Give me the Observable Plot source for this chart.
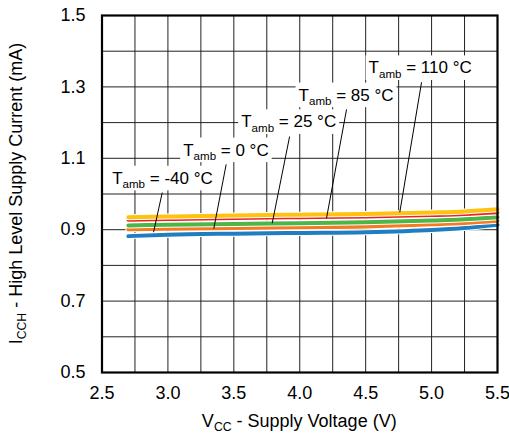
<!DOCTYPE html>
<html><head><meta charset="utf-8">
<script src="https://cdn.jsdelivr.net/npm/d3@7"></script>
<script src="https://cdn.jsdelivr.net/npm/@observablehq/plot@0.6"></script>
<style>body{margin:0;background:#fff}</style>
</head><body><div id="chart"></div>
<script>
// Supply voltage (V)
const vcc = [2.7, 3.0, 3.5, 4.0, 4.5, 5.0, 5.25, 5.5];
// High level supply current (mA) per ambient temperature
const iccM40 = [0.882, 0.886, 0.889, 0.891, 0.893, 0.899, 0.905, 0.914];
const icc0   = [0.901, 0.903, 0.905, 0.907, 0.909, 0.915, 0.919, 0.925];
const icc25  = [0.912, 0.914, 0.916, 0.918, 0.921, 0.926, 0.929, 0.935];
const icc85  = [0.928, 0.930, 0.933, 0.935, 0.937, 0.941, 0.944, 0.949];
const icc110 = [0.935, 0.937, 0.940, 0.942, 0.944, 0.948, 0.951, 0.957];
const seriesNames = ["-40", "0", "25", "85", "110"];
const seriesValues = [iccM40, icc0, icc25, icc85, icc110];
const seriesColors = ["#1f7ec2", "#f47b22", "#4cb748", "#ee1f25", "#ffc20e"];

const xTicks = [2.5, 3.0, 3.5, 4.0, 4.5, 5.0, 5.5];
const yTicks = [0.5, 0.7, 0.9, 1.1, 1.3, 1.5];
const xGrid = [2.75, 3.0, 3.25, 3.5, 3.75, 4.0, 4.25, 4.5, 4.75, 5.0, 5.25];
const yGrid = [0.6, 0.7, 0.8, 0.9, 1.0, 1.1, 1.2, 1.3, 1.4];

// Annotations
const labelRest = [" = -40 °C", " = 0 °C", " = 25 °C", " = 85 °C", " = 110 °C"];
const labelX = [2.577, 3.116, 3.556, 3.991, 4.522];
const labelY = [1.044, 1.123, 1.202, 1.277, 1.353];
const leadX1 = [2.957, 3.442, 3.923, 4.355, 4.924];
const leadY1 = [1.004, 1.083, 1.161, 1.237, 1.313];
const leadX2 = [2.891, 3.348, 3.791, 4.203, 4.759];
const leadY2 = [0.893, 0.903, 0.918, 0.932, 0.949];

const rows = [];
seriesNames.forEach((s, k) => vcc.forEach((v, i) => rows.push({series: s, vcc: v, icc: seriesValues[k][i]})));
const labels = seriesNames.map((s, i) => ({
  text: "Tamb" + labelRest[i], x: labelX[i], y: labelY[i],
  x1: leadX1[i], y1: leadY1[i], x2: leadX2[i], y2: leadY2[i]
}));

const FS = 18;
const font = "'Liberation Sans', Arial, sans-serif";

const lineMarks = [];
seriesNames.forEach((s, k) => {
  const d = rows.filter(r => r.series === s);
  lineMarks.push(Plot.line(d, {x: "vcc", y: "icc", stroke: "white", strokeWidth: 6, curve: "monotone-x"}));
  lineMarks.push(Plot.line(d, {x: "vcc", y: "icc", stroke: seriesColors[k], strokeWidth: 4, curve: "monotone-x"}));
});
// draw order: blue, orange, green, red, yellow
const plot = Plot.plot({
  width: 509, height: 435,
  marginLeft: 101.5, marginRight: 12, marginTop: 15, marginBottom: 63,
  style: {fontFamily: font, fontSize: FS + "px", color: "black", background: "white"},
  x: {domain: [2.5, 5.5], ticks: xTicks, tickFormat: d3.format(".1f"), tickSize: 0, tickPadding: 14, label: null},
  y: {domain: [0.5, 1.5], ticks: yTicks, tickFormat: d3.format(".1f"), tickSize: 0, tickPadding: 16.5, label: null},
  marks: [
    Plot.ruleX(xGrid, {stroke: "#222", strokeWidth: 1}),
    Plot.ruleY(yGrid, {stroke: "#222", strokeWidth: 1}),
    ...lineMarks,
    Plot.link(labels, {x1: "x1", y1: "y1", x2: "x2", y2: "y2", stroke: "black", strokeWidth: 1}),
    Plot.text(labels, {x: "x", y: "y", text: "text", textAnchor: "start", fill: "black", fontSize: 17}),
    Plot.frame({stroke: "black", strokeWidth: 2.2})
  ]
});
document.getElementById("chart").append(plot);

function rich(node, main, sub, rest, fs) {
  const t = d3.select(node);
  t.text(null);
  t.append("tspan").text(main);
  t.append("tspan").attr("font-size", fs * 0.68).attr("dy", fs * 0.27).text(sub);
  t.append("tspan").attr("dy", -fs * 0.27).text(rest);
}

const svg = d3.select(plot);
svg.selectAll("g[aria-label='text'] text").each(function(d, i) {
  rich(this, "T", "amb", labelRest[i], 17);
  const b = this.getBBox();
  const r = document.createElementNS("http://www.w3.org/2000/svg", "rect");
  r.setAttribute("x", b.x - 3);
  r.setAttribute("y", b.y - 3);
  r.setAttribute("width", b.width + 6);
  r.setAttribute("height", b.height + 3);
  r.setAttribute("fill", "white");
  r.setAttribute("stroke", "none");
  const tr = this.getAttribute("transform");
  if (tr) r.setAttribute("transform", tr);
  this.parentNode.insertBefore(r, this);
});

// axis titles
const xs = plot.scale("x"), ys = plot.scale("y");
const cx = (xs.apply(2.5) + xs.apply(5.5)) / 2;
const cy = (ys.apply(0.5) + ys.apply(1.5)) / 2;
const xt = svg.append("text").attr("x", cx).attr("y", 426.5).attr("text-anchor", "middle")
  .attr("font-family", font).attr("font-size", FS).attr("fill", "black");
rich(xt.node(), "V", "CC", " - Supply Voltage (V)", FS);
const yt = svg.append("text").attr("transform", `translate(21.5,${cy}) rotate(-90)`).attr("text-anchor", "middle")
  .attr("font-family", font).attr("font-size", FS).attr("fill", "black");
rich(yt.node(), "I", "CCH", " - High Level Supply Current (mA)", FS);
</script>
</body></html>
